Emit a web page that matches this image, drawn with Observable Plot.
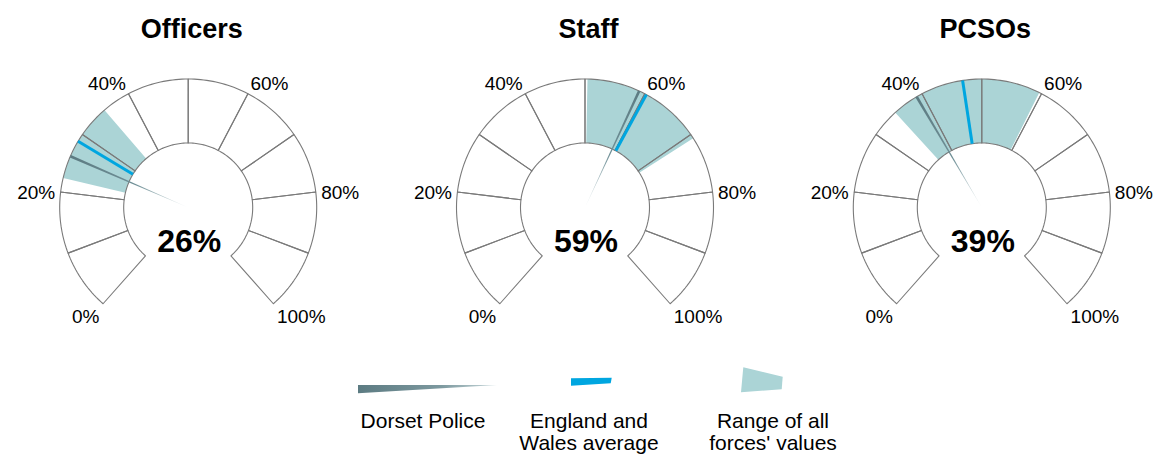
<!DOCTYPE html>
<html>
<head>
<meta charset="utf-8">
<script src="https://cdn.jsdelivr.net/npm/d3@7"></script>
<script src="https://cdn.jsdelivr.net/npm/@observablehq/plot@0.6"></script>
<style>
  body { margin: 0; background: #fff; font-family: "Liberation Sans", Arial, sans-serif; }
  #chart svg { display: block; }
</style>
</head>
<body>
<div id="chart"></div>
<script>
// ---------------- data ----------------
const panels = ["Officers", "Staff", "PCSOs"];
const dorsetValues = [26, 59, 39];
const averageValues = [28.7, 60.3, 46.9];
const rangeMin = [22.3, 50.4, 34.7];
const rangeMax = [35.3, 70.7, 59.6];
const segmentStarts = [0, 10, 20, 30, 40, 50, 60, 70, 80, 90];
const tickValues = [0, 20, 40, 60, 80, 100];
const tickLabels = ["0%", "20%", "40%", "60%", "80%", "100%"];
const legendLabels = [["Dorset Police"], ["England and", "Wales average"], ["Range of all", "forces' values"]];

// ---------------- layout ----------------
const W = 1159, H = 345;
const PX = 128.5;                 // pixels per unit (outer radius = 1)
const R_IN = 64.5 / PX;
const CENTER0 = 187.7, GAP_PX = 396.8, CENTER_Y = 207;
const GAP = GAP_PX / PX;
const START = -138.5, SPAN = 277; // degrees, clockwise from top
const NEEDLE_HALF = 0.22;         // half-width of needle in value units

const COLORS = { band: "#abd4d6", avg: "#00a6e0", needle: "#5c7b82", grid: "#7a7a7a" };

const ang = v => (START + SPAN * v / 100) * Math.PI / 180;
const pt = (i, r, v) => ({ x: i * GAP + r * Math.sin(ang(v)), y: r * Math.cos(ang(v)) });

function wedge(i, v0, v1, r0, r1, key) {
  const n = Math.max(2, Math.ceil((v1 - v0) / 0.5));
  const out = [];
  for (let k = 0; k <= n; k++) out.push({ ...pt(i, r1, v0 + (v1 - v0) * k / n), key });
  for (let k = n; k >= 0; k--) out.push({ ...pt(i, r0, v0 + (v1 - v0) * k / n), key });
  return out;
}

const segData = panels.flatMap((p, i) => segmentStarts.flatMap(s => wedge(i, s, s + 10, R_IN, 1, p + s)));
const bandData = panels.flatMap((p, i) => wedge(i, rangeMin[i], rangeMax[i], R_IN, 1, p));
const needleData = panels.map((p, i) => [
  { x: i * GAP, y: 0 },
  pt(i, 1, dorsetValues[i] - NEEDLE_HALF),
  pt(i, 1, dorsetValues[i] + NEEDLE_HALF)
]);
const avgData = panels.map((p, i) => {
  const a = pt(i, R_IN, averageValues[i]), b = pt(i, 1, averageValues[i]);
  return { x1: a.x, y1: a.y, x2: b.x, y2: b.y };
});

const tickData = panels.flatMap((p, i) => tickValues.map((v, k) => ({
  x: i * GAP + (134 / PX) * Math.sin(ang(v)),
  y: (143 * Math.cos(ang(v)) - 2.7) / PX,
  label: tickLabels[k],
  left: v < 50
})));

const titleData = panels.map((p, i) => ({ x: i * GAP + 3.5 / PX, y: (CENTER_Y - 29) / PX, label: p }));
const valueData = panels.map((p, i) => ({ x: i * GAP + 1 / PX, y: -34 / PX, label: dorsetValues[i] + "%" }));

const xDomain = [-CENTER0 / PX, (W - CENTER0) / PX];
const yDomain = [-(H - CENTER_Y) / PX, CENTER_Y / PX];

const plot = Plot.plot({
  width: W,
  height: H,
  margin: 0,
  x: { domain: xDomain, range: [0, W], axis: null },
  y: { domain: yDomain, range: [H, 0], axis: null },
  style: { fontFamily: "'Liberation Sans', Arial, sans-serif", background: "white", color: "black" },
  marks: [
    Plot.line(segData, { x: "x", y: "y", z: "key", fill: "white", stroke: "none", curve: "linear-closed" }),
    Plot.line(bandData, { x: "x", y: "y", z: "key", fill: COLORS.band, stroke: "none", curve: "linear-closed" }),
    Plot.line(segData, { x: "x", y: "y", z: "key", fill: "none", stroke: COLORS.grid, strokeWidth: 1.1, curve: "linear-closed" }),
    Plot.link(avgData, { x1: "x1", y1: "y1", x2: "x2", y2: "y2", stroke: COLORS.avg, strokeWidth: 3, strokeLinecap: "butt" }),
    ...needleData.map((d, i) => Plot.line(d, { x: "x", y: "y", fill: `url(#needle-grad-${i})`, stroke: "none", curve: "linear-closed" })),
    Plot.text(tickData.filter(d => d.left), { x: "x", y: "y", text: "label", textAnchor: "end", fontSize: 19, fill: "black" }),
    Plot.text(tickData.filter(d => !d.left), { x: "x", y: "y", text: "label", textAnchor: "start", fontSize: 19, fill: "black" }),
    Plot.text(titleData, { x: "x", y: "y", text: "label", fontSize: 27, fontWeight: "bold", fill: "black" }),
    Plot.text(valueData, { x: "x", y: "y", text: "label", fontSize: 32, fontWeight: "bold", fill: "black" })
  ]
});

// needle gradients (lighter toward the hub)
{
  const sx = plot.scale("x"), sy = plot.scale("y");
  const defs = d3.select(plot).insert("defs", ":first-child");
  panels.forEach((p, i) => {
    const c = { x: i * GAP, y: 0 }, t = pt(i, 1, dorsetValues[i]);
    const g = defs.append("linearGradient")
      .attr("id", `needle-grad-${i}`)
      .attr("gradientUnits", "userSpaceOnUse")
      .attr("x1", sx.apply(c.x)).attr("y1", sy.apply(c.y))
      .attr("x2", sx.apply(t.x)).attr("y2", sy.apply(t.y));
    g.append("stop").attr("offset", 0).attr("stop-color", "#eef4f5");
    g.append("stop").attr("offset", 0.45).attr("stop-color", "#6f8f96");
    g.append("stop").attr("offset", 1).attr("stop-color", COLORS.needle);
  });
}

document.getElementById("chart").appendChild(plot);

// ---------------- legend (below the plot) ----------------
{
  const LH = 456 - H;
  const svg = d3.select("#chart").append("svg")
    .attr("width", W).attr("height", LH)
    .style("font-family", "'Liberation Sans', Arial, sans-serif");
  const defs = svg.append("defs");
  const lg = defs.append("linearGradient").attr("id", "legend-needle")
    .attr("x1", 0).attr("x2", 1).attr("y1", 0).attr("y2", 0);
  lg.append("stop").attr("offset", 0).attr("stop-color", COLORS.needle);
  lg.append("stop").attr("offset", 0.6).attr("stop-color", "#7d999f");
  lg.append("stop").attr("offset", 1).attr("stop-color", "#c9d9dc");

  svg.append("polygon").attr("points", "358,40 497,40 358,48.3").attr("fill", "url(#legend-needle)");
  svg.append("polygon").attr("points", "571,33.3 611.7,32.7 610.7,38.3 571,40.7").attr("fill", COLORS.avg);
  svg.append("polygon").attr("points", "743.3,22.3 782.7,31.7 781.7,44.3 741,47.3").attr("fill", COLORS.band);

  const centers = [423, 589, 773];
  legendLabels.forEach((lines, k) => {
    lines.forEach((line, j) => {
      svg.append("text")
        .attr("x", centers[k]).attr("y", 83.3 + j * 22)
        .attr("text-anchor", "middle")
        .attr("font-size", 21)
        .attr("fill", "black")
        .text(line);
    });
  });
}
</script>
</body>
</html>
